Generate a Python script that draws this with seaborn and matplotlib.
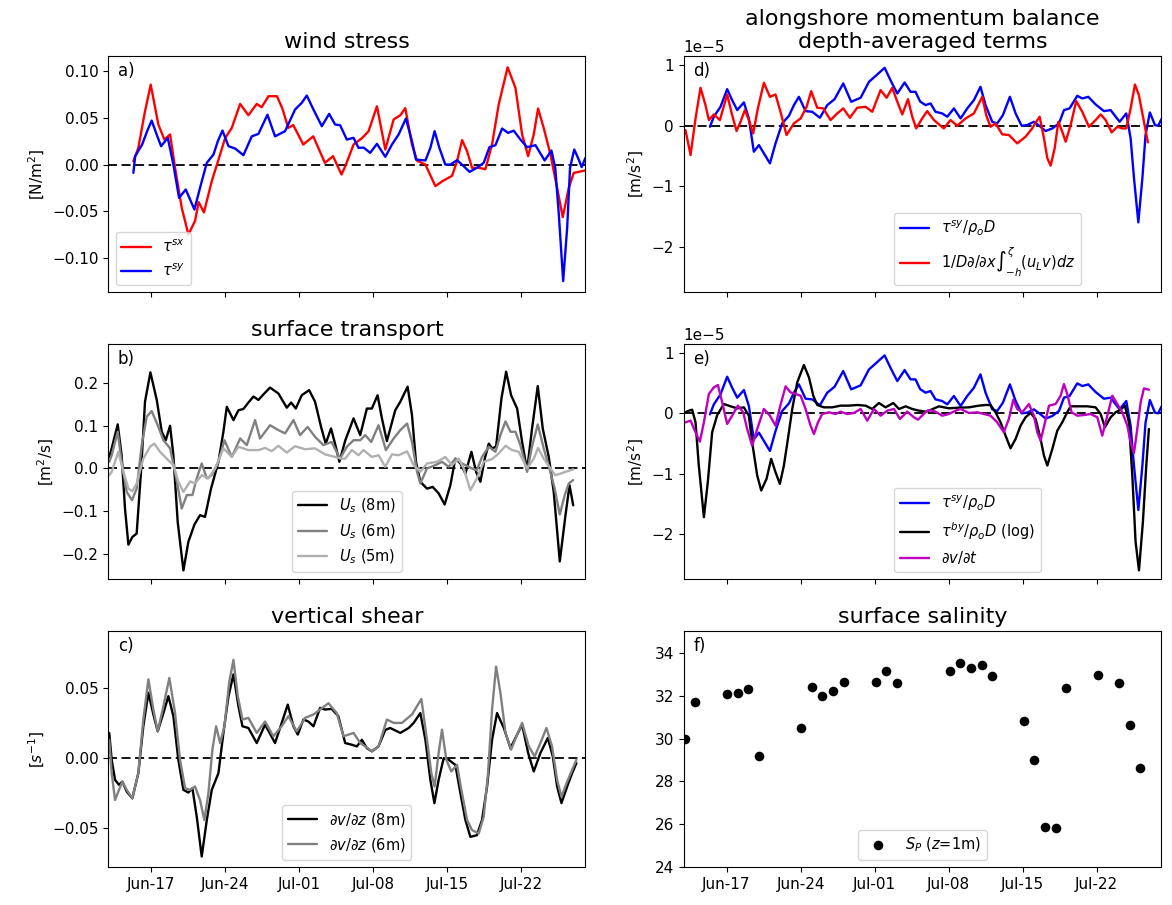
import numpy as np
import pandas as pd
import matplotlib
matplotlib.use("Agg")
import matplotlib.pyplot as plt
import matplotlib.dates as mdates
import seaborn as sns

# ---------------------------------------------------------------------------
# Time is stored as days since 17 June 00:00
# ---------------------------------------------------------------------------
T0 = pd.Timestamp("2019-06-17")
XLIM_DAYS = (-4.04, 41.06)
TICK_DAYS = [0, 7, 14, 21, 28, 35]

# (a) wind stress [N/m^2]
tsx_day = [-1.67, -1.2, -0.6, -0.03, 0.69, 1.26, 1.8, 2.27, 2.9, 3.53, 4.16, 4.5, 5.0, 5.74,
           6.37, 7.0, 7.63, 8.42, 9.2, 9.99, 10.45, 11.1, 11.9, 12.4, 12.97, 13.44, 14.39,
           15.33, 16.43, 17.2, 18.0, 18.35, 19.14, 19.93, 20.56, 21.35, 22.14, 22.93, 23.56,
           24.03, 24.66, 25.14, 25.93, 26.87, 27.5, 28.45, 28.92, 29.4, 29.87, 30.34, 31.0,
           31.6, 32.23, 32.86, 33.7, 34.44, 35.07, 35.64, 36.17, 36.58, 37.11, 37.75, 38.38,
           38.91, 39.48, 39.95, 40.42, 41.0]
tsx_val = [0.0035, 0.0177, 0.055, 0.085, 0.0426, 0.0266, 0.032, -0.0035, -0.046, -0.0745,
           -0.060, -0.040, -0.051, -0.0177, 0.005, 0.028, 0.039, 0.0645, 0.0525, 0.0645, 0.061,
           0.0727, 0.0727, 0.060, 0.039, 0.042, 0.0213, 0.030, 0.0018, 0.0089, -0.0106, -0.002,
           0.0213, 0.028, 0.0355, 0.062, 0.016, 0.048, 0.0525, 0.060, 0.0213, 0.004, 0.0,
           -0.023, -0.018, -0.012, 0.0035, 0.026, 0.014, -0.0035, -0.0035, -0.005, 0.0213, 0.064,
           0.1035, 0.0816, 0.032, 0.0089, 0.032, 0.0596, 0.039, 0.0106, -0.025, -0.056, -0.025,
           -0.0089, -0.0078, -0.0064]

tsy_day = [-1.67, -1.5, -0.84, -0.37, 0.06, 0.53, 0.95, 1.58, 2.11, 2.65, 3.28, 4.1, 4.63,
           5.27, 5.9, 6.31, 6.75, 7.32, 7.95, 8.73, 9.52, 10.15, 11.0, 11.72, 12.67, 13.61,
           14.24, 14.72, 15.35, 16.14, 16.83, 17.4, 17.87, 18.5, 19.14, 19.61, 20.1, 20.71,
           21.35, 22.14, 22.77, 23.4, 24.09, 24.66, 25.04, 25.93, 26.4, 26.8, 27.25, 27.81,
           28.3, 28.92, 29.55, 30.1, 30.8, 31.44, 31.98, 32.55, 33.18, 33.74, 34.28, 34.91,
           35.54, 36.33, 37.2, 37.84, 38.2, 38.54, 38.95, 39.33, 39.6, 40.0, 40.42, 40.7, 41.05]
tsy_val = [-0.0089, 0.0089, 0.0213, 0.0355, 0.0468, 0.032, 0.0195, 0.0284, 0.0, -0.0355,
           -0.0266, -0.0479, -0.0248, 0.0018, 0.0106, 0.0248, 0.0362, 0.0195, 0.017, 0.0099,
           0.030, 0.0326, 0.053, 0.030, 0.0355, 0.0585, 0.0656, 0.0734, 0.0585, 0.0408, 0.0539,
           0.0426, 0.0418, 0.0266, 0.0284, 0.0177, 0.018, 0.0124, 0.022, 0.0082, 0.0213, 0.032,
           0.049, 0.0248, 0.0053, 0.0043, 0.0177, 0.0355, 0.0177, 0.0, 0.0, 0.0046, -0.0018,
           -0.0078, -0.0035, 0.0018, 0.0184, 0.0206, 0.0383, 0.0337, 0.036, 0.0266, 0.0184,
           0.0206, 0.0043, 0.0149, -0.0035, -0.053, -0.124, -0.067, -0.0035, 0.016, 0.0053,
           -0.0028, 0.007]

# (b) surface transport [m^2/s]
us8_day = [-3.95, -3.72, -3.15, -2.78, -2.46, -2.14, -1.77, -1.36, -0.95, -0.57, -0.06, 0.54,
           1.01, 1.39, 1.8, 2.11, 2.52, 3.06, 3.53, 4.1, 4.63, 5.1, 5.67, 6.37, 6.84, 7.16,
           7.79, 8.26, 8.73, 9.2, 9.68, 10.15, 10.62, 11.25, 12.04, 12.83, 13.24, 13.68, 14.24,
           14.94, 15.5, 16.07, 16.51, 17.01, 17.39, 17.8, 18.35, 19.14, 19.77, 20.4, 20.87,
           21.41, 21.82, 22.29, 23.08, 23.56, 24.25, 24.66, 25.04, 25.45, 26.08, 26.62, 27.18,
           27.75, 28.29, 28.76, 29.24, 29.71, 30.28, 30.72, 31.13, 31.54, 31.92, 32.23, 32.61,
           33.12, 33.56, 34.03, 34.6, 35.07, 35.54, 36.01, 36.55, 37.02, 37.59, 38.06, 38.63,
           39.17, 39.55, 39.9]
us8_val = [0.027, 0.047, 0.103, 0.031, -0.094, -0.178, -0.16, -0.152, -0.008, 0.156, 0.2245,
           0.16, 0.086, 0.066, 0.0998, 0.031, -0.125, -0.238, -0.171, -0.131, -0.109, -0.113,
           -0.047, 0.0156, 0.086, 0.144, 0.113, 0.136, 0.139, 0.154, 0.168, 0.16, 0.173, 0.189,
           0.175, 0.142, 0.154, 0.14, 0.171, 0.183, 0.156, 0.097, 0.058, 0.0935, 0.058, 0.0156,
           0.065, 0.117, 0.078, 0.14, 0.14, 0.171, 0.117, 0.064, 0.136, 0.156, 0.191, 0.125,
           0.0156, -0.031, -0.047, -0.043, -0.058, -0.084, -0.039, 0.023, 0.0117, -0.0117,
           0.039, -0.0078, -0.031, 0.023, 0.058, 0.047, 0.051, 0.164, 0.226, 0.171, 0.14, 0.062,
           -0.004, 0.0935, 0.1925, 0.0935, 0.027, -0.0546, -0.217, -0.109, -0.039, -0.086]

us6_day = [-3.95, -3.72, -3.15, -2.78, -2.3, -1.8, -1.36, -0.88, -0.41, 0.06, 0.63, 1.17, 1.8,
           2.27, 2.9, 3.38, 3.91, 4.32, 4.79, 5.27, 5.74, 6.37, 6.94, 7.63, 8.42, 9.05, 9.83,
           10.3, 10.78, 11.25, 12.04, 12.67, 13.46, 14.08, 14.8, 15.5, 16.29, 17.07, 17.86, 18.5,
           19.14, 19.77, 20.24, 20.81, 21.5, 22.2, 22.93, 23.56, 24.2, 24.66, 25.14, 25.45,
           26.08, 26.87, 27.5, 28.13, 28.76, 29.4, 30.34, 30.8, 31.28, 31.92, 32.55, 33.02,
           33.5, 33.97, 34.44, 34.91, 35.54, 36.0, 36.55, 37.11, 37.65, 38.15, 38.63, 39.1,
           39.48, 39.9]
us6_val = [0.0156, 0.031, 0.0857, 0.0156, -0.0546, -0.074, -0.047, 0.0546, 0.121, 0.134,
           0.101, 0.066, 0.047, -0.0078, -0.0935, -0.062, -0.062, -0.023, 0.0117, -0.023,
           -0.0156, 0.0156, 0.066, 0.027, 0.070, 0.0546, 0.113, 0.07, 0.0857, 0.101, 0.0896,
           0.082, 0.113, 0.078, 0.097, 0.074, 0.0546, 0.062, 0.023, 0.0507, 0.066, 0.066, 0.078,
           0.062, 0.101, 0.043, 0.070, 0.0896, 0.105, 0.062, -0.0078, -0.035, 0.0, 0.0078,
           0.0156, 0.004, 0.023, 0.0117, 0.0, -0.004, 0.027, 0.0507, 0.039, 0.078, 0.11, 0.0857,
           0.0857, 0.0546, -0.0078, 0.0507, 0.103, 0.047, 0.0, -0.047, -0.1075, -0.062, -0.035,
           -0.027]

us5_day = [-3.95, -3.72, -3.09, -2.62, -2.14, -1.77, -1.36, -0.73, -0.09, 0.31, 0.85, 1.48,
           2.11, 2.58, 3.06, 3.69, 4.16, 4.79, 5.42, 6.05, 6.84, 7.63, 8.26, 9.2, 10.15, 10.78,
           11.4, 12.04, 12.83, 13.61, 14.56, 15.5, 16.45, 17.39, 18.02, 18.35, 18.98, 19.61,
           20.08, 20.87, 21.5, 22.14, 22.77, 23.4, 24.2, 24.82, 25.45, 26.08, 27.03, 27.81,
           28.45, 29.08, 29.55, 30.18, 30.8, 31.44, 32.23, 32.86, 33.5, 34.12, 34.75, 35.54,
           36.17, 36.58, 37.11, 37.75, 38.2, 38.7, 39.17, 39.9]
us5_val = [-0.0156, -0.0078, 0.039, -0.0078, -0.047, -0.053, -0.035, 0.023, 0.0507, 0.058,
           0.039, 0.023, 0.0078, -0.031, -0.0546, -0.03, -0.035, -0.0156, -0.023, 0.0, 0.047,
           0.027, 0.0507, 0.043, 0.043, 0.048, 0.0405, 0.053, 0.037, 0.052, 0.045, 0.047,
           0.033, 0.027, 0.023, 0.023, 0.043, 0.031, 0.043, 0.027, 0.031, 0.004, 0.033, 0.031,
           0.04, 0.0078, -0.0078, 0.0117, 0.0156, 0.027, 0.0078, 0.023, 0.0, -0.0507, -0.023,
           0.0156, 0.022, 0.035, 0.053, 0.043, 0.039, 0.0, 0.023, 0.048, 0.023, 0.0, -0.0156,
           -0.012, -0.0078, -0.002]

# (c) vertical shear [1/s]
sh8_day = [-3.95, -3.72, -3.4, -3.03, -2.71, -2.3, -1.77, -1.2, -0.73, -0.25, 0.22, 0.63,
           1.17, 1.64, 2.11, 2.58, 3.06, 3.53, 3.91, 4.32, 4.79, 5.27, 5.74, 6.37, 6.84, 7.32,
           7.79, 8.26, 8.64, 9.2, 9.99, 10.78, 11.72, 12.35, 12.92, 13.46, 13.87, 14.4, 14.87,
           15.35, 15.98, 16.45, 17.07, 17.7, 18.35, 18.98, 19.45, 19.93, 20.4, 20.87, 21.5,
           22.14, 22.6, 23.56, 24.35, 24.82, 25.45, 25.93, 26.4, 26.78, 27.18, 27.66, 28.13,
           28.76, 29.24, 29.71, 30.18, 30.8, 31.28, 31.76, 32.23, 32.7, 33.34, 33.97, 34.6,
           35.07, 35.64, 36.17, 36.8, 37.5, 37.97, 38.38, 38.79, 39.33, 39.8, 40.2]
sh8_val = [0.0179, -0.0012, -0.0155, -0.019, -0.0167, -0.0238, -0.0286, -0.0107, 0.0226,
           0.0464, 0.031, 0.019, 0.032, 0.044, 0.0298, -0.0012, -0.0226, -0.0245, -0.0214,
           -0.0417, -0.070, -0.044, -0.0226, -0.0107, 0.0179, 0.044, 0.0595, 0.0369, 0.0226,
           0.0214, 0.0107, 0.0238, 0.0107, 0.025, 0.038, 0.0226, 0.0167, 0.0274, 0.026, 0.0226,
           0.0357, 0.0345, 0.035, 0.0298, 0.0107, 0.0095, 0.0083, 0.013, 0.007, 0.0048, 0.0083,
           0.02, 0.0214, 0.0179, 0.0214, 0.025, 0.032, 0.013, -0.0155, -0.032, -0.0155, 0.0,
           -0.0012, -0.0048, -0.025, -0.044, -0.056, -0.0548, -0.044, -0.0202, 0.013, 0.032,
           0.0214, 0.0071, 0.0167, 0.0238, 0.0036, -0.0095, 0.0036, 0.0143, 0.0012, -0.0202,
           -0.032, -0.0202, -0.0107, -0.0036]

sh6_day = [-3.95, -3.72, -3.4, -3.03, -2.71, -2.3, -1.77, -1.2, -0.73, -0.25, 0.22, 0.63,
           1.17, 1.73, 2.27, 2.74, 3.22, 3.69, 4.16, 4.63, 5.04, 5.42, 5.8, 6.15, 6.53, 6.94,
           7.38, 7.79, 8.2, 8.64, 9.2, 9.99, 10.78, 11.56, 12.35, 12.98, 13.77, 14.56, 15.35,
           15.98, 16.77, 17.55, 18.19, 19.14, 19.77, 20.24, 20.87, 21.5, 22.29, 22.93, 23.71,
           24.66, 25.55, 26.08, 26.49, 26.8, 27.18, 27.5, 27.91, 28.38, 28.92, 29.33, 29.87,
           30.34, 30.97, 31.44, 31.85, 32.23, 32.61, 33.02, 33.5, 34.03, 34.6, 35.07, 35.7,
           36.26, 36.8, 37.37, 37.9, 38.38, 38.79, 39.33, 39.8, 40.2]
sh6_val = [0.013, -0.0107, -0.0298, -0.0226, -0.0167, -0.0226, -0.0286, -0.0107, 0.0274,
           0.056, 0.0345, 0.019, 0.0369, 0.057, 0.032, -0.0012, -0.0214, -0.0226, -0.0202,
           -0.0298, -0.044, -0.025, 0.006, 0.0226, 0.0107, 0.0226, 0.0536, 0.0698, 0.044,
           0.0274, 0.0286, 0.0179, 0.026, 0.0155, 0.0226, 0.0298, 0.019, 0.0286, 0.031, 0.0345,
           0.039, 0.032, 0.0155, 0.0179, 0.0107, 0.0083, 0.0048, 0.0083, 0.0274, 0.025, 0.025,
           0.031, 0.042, 0.013, -0.0107, -0.0202, 0.0036, 0.0202, -0.0012, -0.0095, -0.0048,
           -0.0226, -0.044, -0.0512, -0.0536, -0.0417, -0.0107, 0.0345, 0.065, 0.0464, 0.0179,
           0.006, 0.0167, 0.025, 0.0083, 0.0012, 0.0107, 0.0214, 0.0083, -0.0155, -0.0274,
           -0.0167, -0.0083, -0.0012]

# (d, e) depth-averaged alongshore momentum terms [1e-5 m/s^2]
wind_day = [-1.57, -1.2, -0.57, 0.06, 0.53, 1.01, 1.64, 2.11, 2.58, 3.06, 3.53, 4.1, 4.63,
            5.26, 5.9, 6.37, 6.84, 7.47, 8.1, 8.82, 9.52, 10.21, 11.03, 11.78, 12.67, 13.46,
            14.24, 14.94, 15.57, 16.14, 16.83, 17.39, 17.86, 18.3, 18.81, 19.28, 19.75, 20.38,
            20.86, 21.49, 22.12, 22.75, 23.38, 24.0, 24.48, 25.11, 25.58, 26.12, 26.78, 27.32,
            27.89, 28.42, 29.05, 29.68, 30.16, 30.79, 31.42, 31.89, 32.42, 33.15, 33.62, 34.19,
            34.88, 35.67, 36.3, 37.15, 37.78, 38.19, 38.51, 38.92, 39.3, 39.6, 40.01, 40.49,
            40.8, 41.1]
wind_val = [-0.017, 0.149, 0.314, 0.606, 0.424, 0.259, 0.386, 0.121, -0.43, -0.32, -0.457,
            -0.623, -0.292, 0.039, 0.165, 0.342, 0.479, 0.242, 0.231, 0.132, 0.342, 0.44, 0.70,
            0.397, 0.463, 0.727, 0.848, 0.959, 0.727, 0.534, 0.716, 0.562, 0.562, 0.40, 0.342,
            0.369, 0.231, 0.204, 0.149, 0.287, 0.121, 0.287, 0.424, 0.645, 0.342, 0.066, 0.039,
            0.176, 0.479, 0.204, 0.0, 0.011, 0.066, -0.017, -0.088, -0.044, 0.039, 0.259,
            0.287, 0.496, 0.452, 0.479, 0.353, 0.242, 0.259, 0.066, 0.204, -0.209, -0.87, -1.60,
            -0.87, -0.154, 0.22, 0.011, 0.0, 0.11]

adv_day = [-3.88, -3.4, -2.93, -2.46, -1.99, -1.67, -1.2, -0.63, 0.06, 0.53, 0.95, 1.32,
           1.73, 2.11, 2.52, 2.96, 3.53, 4.1, 4.63, 5.1, 5.67, 6.37, 7.0, 7.57, 8.0, 8.57,
           9.14, 9.83, 10.46, 11.03, 11.66, 12.35, 13.14, 13.77, 14.56, 15.13, 15.66, 16.14,
           16.61, 17.15, 17.55, 17.93, 18.49, 18.97, 19.6, 20.23, 20.54, 21.17, 21.8, 22.59,
           23.38, 24.17, 24.54, 24.95, 25.42, 26.06, 26.69, 27.47, 28.26, 28.89, 29.27, 29.59,
           30.0, 30.32, 30.63, 31.01, 31.36, 31.73, 32.05, 32.52, 33.05, 33.62, 34.25, 34.88,
           35.36, 35.83, 36.4, 36.93, 37.4, 37.78, 38.19, 38.6, 38.97, 39.45, 39.82]
adv_val = [-0.072, -0.485, 0.121, 0.628, 0.342, 0.094, 0.187, 0.094, 0.518, 0.176, -0.088,
           0.066, 0.259, 0.094, -0.127, 0.287, 0.711, 0.479, 0.518, 0.231, -0.154, 0.039,
           0.121, 0.314, 0.573, 0.298, 0.287, 0.094, 0.204, 0.287, 0.132, 0.298, 0.314, 0.231,
           0.59, 0.463, 0.628, 0.397, 0.187, 0.44, 0.149, -0.044, 0.121, 0.242, 0.094, 0.0,
           -0.044, 0.094, 0.0, 0.121, 0.204, 0.479, 0.176, -0.017, 0.039, -0.143, -0.154,
           -0.292, -0.182, -0.044, 0.066, 0.149, -0.209, -0.54, -0.661, -0.375, 0.066, -0.099,
           -0.264, 0.011, 0.408, 0.231, -0.017, 0.094, 0.187, 0.094, -0.11, -0.017, -0.044,
           -0.044, 0.287, 0.683, 0.507, 0.066, -0.275]

bot_day = [-3.88, -3.56, -3.25, -2.93, -2.62, -2.14, -1.77, -1.36, -0.88, -0.25, 0.38, 1.01,
           1.64, 2.11, 2.42, 2.9, 3.28, 3.78, 4.22, 4.63, 5.04, 5.42, 5.8, 6.21, 6.68, 7.31,
           7.79, 8.2, 8.57, 9.2, 9.99, 10.78, 11.56, 12.35, 13.14, 13.77, 14.4, 15.03, 15.76,
           16.3, 16.93, 17.55, 18.19, 18.8, 19.28, 20.07, 21.02, 21.96, 22.91, 23.85, 24.48,
           24.95, 25.42, 25.9, 26.37, 26.84, 27.32, 27.79, 28.26, 28.73, 29.21, 29.68, 30.0,
           30.32, 30.79, 31.26, 31.73, 32.2, 32.52, 33.3, 34.09, 34.88, 35.36, 35.76, 36.3,
           36.77, 37.24, 37.65, 38.03, 38.35, 38.66, 38.98, 39.35, 39.67, 39.92]
bot_val = [0.017, 0.044, 0.06, -0.149, -0.865, -1.72, -1.14, -0.314, -0.028, 0.154, 0.116,
           0.083, 0.099, -0.039, -0.479, -1.03, -1.278, -1.085, -0.755, -0.975, -1.168, -0.865,
           -0.424, 0.072, 0.512, 0.799, 0.595, 0.292, 0.138, 0.099, 0.099, 0.127, 0.127, 0.138,
           0.127, 0.072, 0.171, 0.099, 0.171, 0.072, 0.116, 0.072, 0.044, 0.028, 0.055, 0.116,
           0.083, 0.094, 0.099, 0.127, 0.138, 0.138, 0.017, -0.149, -0.369, -0.579, -0.424,
           -0.204, -0.066, 0.006, -0.094, -0.424, -0.7, -0.865, -0.59, -0.287, -0.149, 0.017,
           0.116, 0.116, 0.116, 0.099, -0.011, -0.231, -0.066, 0.017, 0.06, 0.127, -0.149,
           -1.03, -2.13, -2.6, -1.8, -0.865, -0.259]

dvdt_day = [-3.88, -3.4, -2.93, -2.52, -2.14, -1.67, -1.2, -0.82, -0.41, 0.06, 0.53, 1.07,
            1.58, 1.95, 2.42, 2.9, 3.53, 4.1, 4.63, 5.04, 5.58, 6.05, 6.53, 7.0, 7.47, 7.94,
            8.26, 8.64, 9.05, 9.68, 10.3, 10.78, 11.4, 12.04, 12.67, 13.3, 13.93, 14.56, 15.19,
            15.82, 16.39, 17.08, 17.71, 18.09, 18.8, 19.12, 19.75, 20.38, 21.02, 21.65, 22.12,
            22.91, 23.7, 24.33, 24.95, 25.58, 26.21, 26.68, 27.1, 27.47, 27.95, 28.58, 29.05,
            29.37, 29.68, 30.1, 30.48, 31.1, 31.58, 31.89, 32.2, 32.61, 33.15, 33.78, 34.41,
            35.04, 35.51, 35.99, 36.46, 36.93, 37.4, 37.88, 38.19, 38.51, 38.82, 39.14, 39.45,
            39.92]
dvdt_val = [-0.149, -0.121, -0.314, -0.468, -0.149, 0.32, 0.43, 0.468, 0.182, -0.176, -0.039,
            0.127, 0.017, -0.259, -0.534, -0.259, 0.072, -0.039, -0.204, 0.099, 0.446, 0.347,
            0.32, 0.292, 0.072, -0.204, -0.342, -0.149, -0.011, 0.017, -0.011, 0.028, -0.011,
            0.006, 0.072, -0.121, 0.072, -0.039, 0.044, 0.072, -0.094, 0.028, -0.066, -0.105,
            0.017, 0.055, 0.028, -0.039, -0.011, 0.044, 0.072, 0.006, 0.017, -0.011, -0.039,
            -0.149, -0.314, -0.094, 0.226, 0.072, 0.017, 0.154, -0.039, -0.314, -0.452, -0.149,
            0.127, 0.154, 0.292, 0.485, 0.32, 0.017, -0.039, -0.028, -0.011, -0.066, -0.369,
            -0.039, 0.292, 0.154, 0.017, -0.204, -0.479, -0.656, -0.259, 0.182, 0.413, 0.391]

# (f) surface salinity at z = 1 m
sal_day = [-3.97, -2.96, 0.06, 1.07, 2.05, 3.06, 7.06, 8.06, 9.04, 10.05, 11.06, 14.08, 15.09,
           16.07, 21.08, 22.09, 23.09, 24.1, 25.08, 28.07, 29.08, 30.09, 31.1, 32.07, 35.07,
           37.12, 38.09, 39.1]
sal_val = [29.98, 31.70, 32.08, 32.14, 32.30, 29.19, 30.50, 32.41, 32.0, 32.21, 32.64, 32.65,
           33.15, 32.58, 33.16, 33.52, 33.30, 33.44, 32.93, 30.84, 28.99, 25.88, 25.83, 32.38,
           32.96, 32.59, 30.64, 28.6]

MOM_SCALE = 1e-5


def to_time(days):
    return T0 + pd.to_timedelta(np.asarray(days, dtype=float), unit="D")


def line(ax, days, vals, color, label, scale=1.0):
    sns.lineplot(x=to_time(days), y=np.asarray(vals) * scale, ax=ax, color=color,
                 lw=1.7, label=label, estimator=None, sort=False, errorbar=None,
                 solid_joinstyle="round", solid_capstyle="round")


fig, axes = plt.subplots(3, 2, figsize=(11.72, 9.05), dpi=100, sharex=True)
fig.subplots_adjust(left=0.0924, right=0.9906, top=0.9378, bottom=0.042,
                    wspace=0.206, hspace=0.221)
(ax_a, ax_d), (ax_b, ax_e), (ax_c, ax_f) = axes

TITLE_FS = 16
TICK_FS = 11
LEG_FS = 10.5

# (a) wind stress
line(ax_a, tsx_day, tsx_val, "red", r"$\tau^{sx}$")
line(ax_a, tsy_day, tsy_val, "blue", r"$\tau^{sy}$")
ax_a.set_ylim(-0.1355, 0.1152)
ax_a.set_ylabel(r"[N/m$^2$]", fontsize=TICK_FS)
ax_a.set_title("wind stress", fontsize=TITLE_FS)
ax_a.legend(loc="lower left", fontsize=LEG_FS)

# (b) surface transport
line(ax_b, us8_day, us8_val, "black", r"$U_s$ (8m)")
line(ax_b, us6_day, us6_val, "#808080", r"$U_s$ (6m)")
line(ax_b, us5_day, us5_val, "#b0b0b0", r"$U_s$ (5m)")
ax_b.set_ylim(-0.259, 0.291)
ax_b.set_ylabel(r"[m$^2$/s]", fontsize=TICK_FS)
ax_b.set_title("surface transport", fontsize=TITLE_FS)
ax_b.legend(loc="lower center", fontsize=LEG_FS)

# (c) vertical shear
line(ax_c, sh8_day, sh8_val, "black", r"$\partial v/\partial z$ (8m)")
line(ax_c, sh6_day, sh6_val, "#808080", r"$\partial v/\partial z$ (6m)")
ax_c.set_ylim(-0.0774, 0.090)
ax_c.set_yticks([-0.05, 0.0, 0.05])
ax_c.set_ylabel(r"[$s^{-1}$]", fontsize=TICK_FS)
ax_c.set_title("vertical shear", fontsize=TITLE_FS)
ax_c.legend(loc="lower center", fontsize=LEG_FS)

# (d) momentum balance: wind vs. advection
line(ax_d, wind_day, wind_val, "blue", r"$\tau^{sy}/\rho_o D$", MOM_SCALE)
line(ax_d, adv_day, adv_val, "red",
     r"$1/D\partial/\partial x\int_{-h}^{\zeta}(u_L v)dz$", MOM_SCALE)
ax_d.set_title("alongshore momentum balance\ndepth-averaged terms", fontsize=TITLE_FS)
ax_d.legend(loc="lower left", bbox_to_anchor=(0.426, 0.0), fontsize=LEG_FS)

# (e) momentum balance: wind, bottom stress, acceleration
line(ax_e, wind_day, wind_val, "blue", r"$\tau^{sy}/\rho_o D$", MOM_SCALE)
line(ax_e, bot_day, bot_val, "black", r"$\tau^{by}/\rho_o D$ (log)", MOM_SCALE)
line(ax_e, dvdt_day, dvdt_val, "#bf00bf", r"$\partial v/\partial t$", MOM_SCALE)
ax_e.legend(loc="lower left", bbox_to_anchor=(0.426, 0.0), fontsize=LEG_FS)

for ax in (ax_d, ax_e):
    ax.set_ylim(-2.75e-5, 1.15e-5)
    ax.set_yticks(np.array([-2, -1, 0, 1]) * MOM_SCALE)
    ax.set_ylabel(r"[m/s$^2$]", fontsize=TICK_FS)
    ax.yaxis.get_offset_text().set_fontsize(TICK_FS)

# (f) surface salinity
sns.scatterplot(x=to_time(sal_day), y=sal_val, ax=ax_f, color="black", s=48,
                linewidth=0, label=r"$S_P$ ($z$=1m)", zorder=3)
ax_f.set_ylim(24, 35)
ax_f.set_yticks([24, 26, 28, 30, 32, 34])
ax_f.set_ylabel("")
ax_f.set_title("surface salinity", fontsize=TITLE_FS)
ax_f.legend(loc="lower center", fontsize=LEG_FS)

letters = ["a)", "d)", "b)", "e)", "c)", "f)"]
for ax, letter in zip(axes.flat, letters):
    if ax is not ax_f:
        ax.axhline(0, color="black", ls=(0, (5, 2.5)), lw=1.3, zorder=1)
    ax.text(0.02, 0.975, letter, transform=ax.transAxes, ha="left", va="top",
            fontsize=12)
    ax.tick_params(labelsize=TICK_FS)
    ax.set_xlim(to_time([XLIM_DAYS[0]])[0], to_time([XLIM_DAYS[1]])[0])
    ax.set_xticks(to_time(TICK_DAYS))
    ax.xaxis.set_major_formatter(mdates.DateFormatter("%b-%d"))
    ax.set_xlabel("")

fig.savefig("out.png", dpi=100)
